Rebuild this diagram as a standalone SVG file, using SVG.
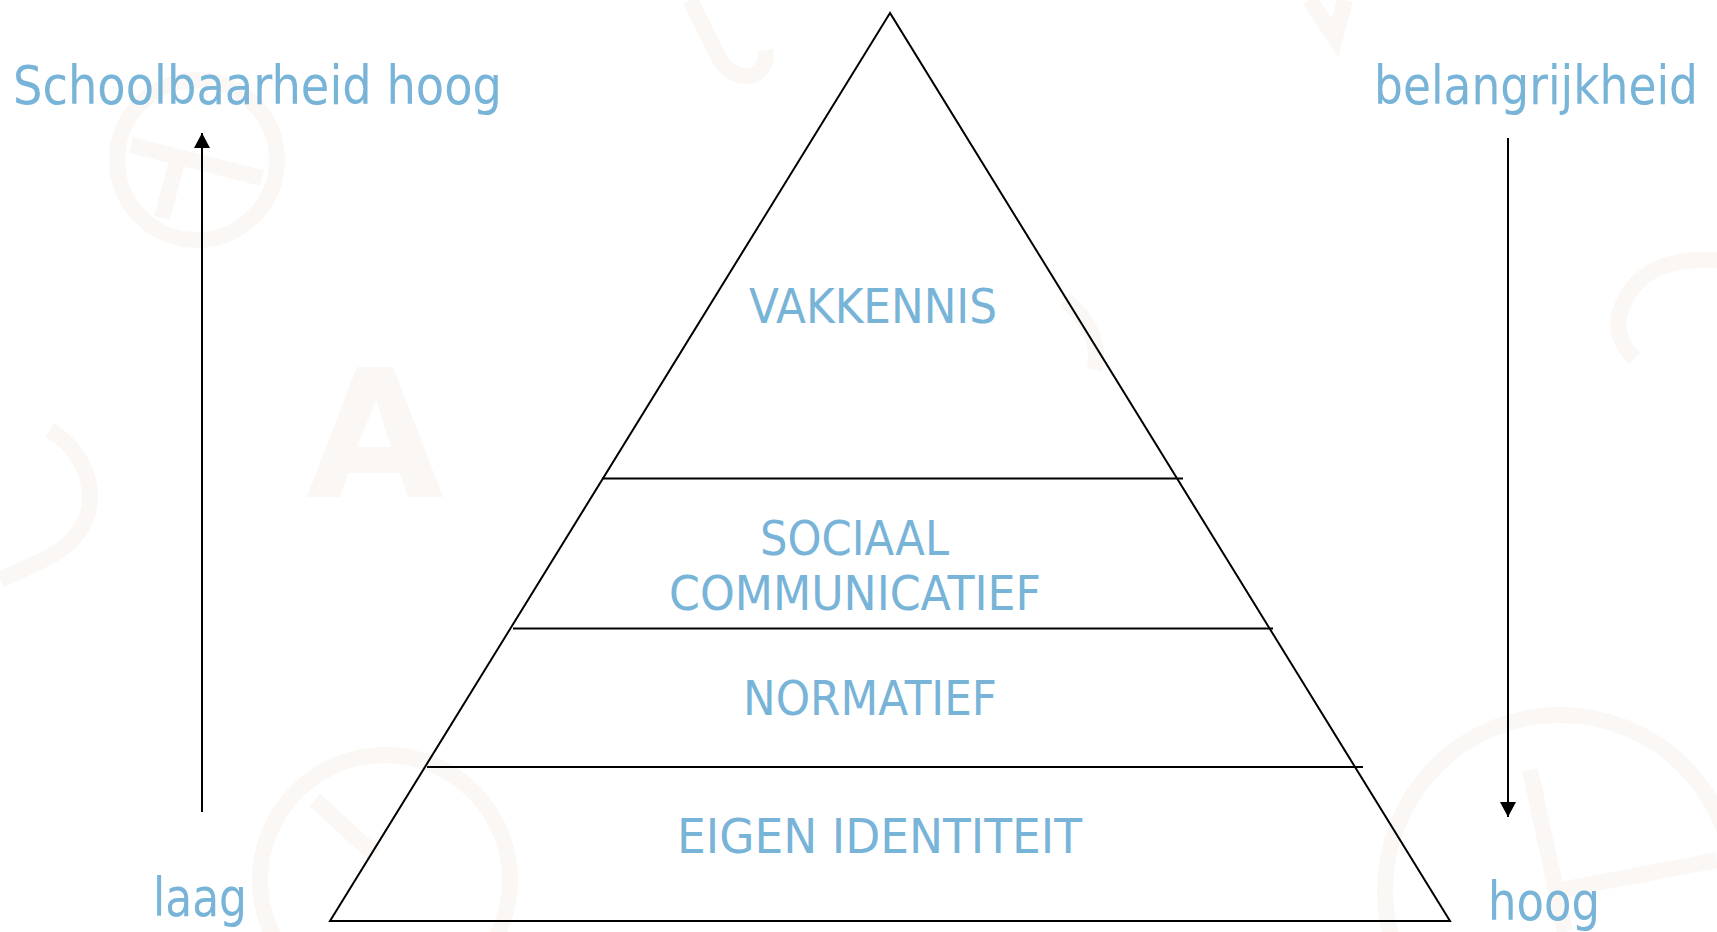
<svg xmlns="http://www.w3.org/2000/svg" width="1717" height="932" viewBox="0 0 1717 932">
  <defs>
    <style>
      .wm { fill: none; stroke: #faf7f4; stroke-width: 16; }
      .wmf { fill: #faf7f4; }
      .edge { fill: none; stroke: #000; stroke-width: 2; }
      .lbl { font-family: "DejaVu Sans", "Liberation Sans", sans-serif; fill: #78b3d8; }
      .big { font-size: 54px; }
      .lvl { font-size: 48px; }
    </style>
    <marker id="ah" markerUnits="userSpaceOnUse" markerWidth="16" markerHeight="16" refX="15" refY="8" orient="auto">
      <path d="M0,0 L15,8 L0,16 Z" fill="#000"/>
    </marker>
  </defs>

  <rect width="1717" height="932" fill="#fff"/>

  <g id="watermark">
    <circle class="wm" cx="197" cy="160" r="80"/>
    <path class="wm" d="M131,145 L262,178 M180,150 L162,218"/>
    <path class="wmf" d="M307,497 L357,367 L393,367 L443,497 L408,497 L400,473 L348,473 L340,497 Z M357,447 L391,447 L376,400 Z"/>
    <path class="wm" d="M50,430 C90,455 100,500 80,530 C65,555 30,565 0,580"/>
    <path class="wm" d="M690,0 L720,60 C735,85 770,80 765,50"/>
    <path class="wm" d="M1310,0 L1335,38 L1345,0"/>
    <path class="wm" d="M1717,260 C1670,258 1640,270 1625,300 C1612,325 1620,345 1635,358"/>
    <path class="wm" d="M1065,300 C1090,320 1100,345 1095,370"/>
    <circle class="wm" cx="385" cy="880" r="125"/>
    <path class="wm" d="M315,800 L375,855"/>
    <circle class="wm" cx="1560" cy="890" r="175"/>
    <path class="wm" d="M1530,770 L1565,932 M1560,890 L1717,860"/>
  </g>

  <g id="pyramid">
    <polygon class="edge" points="890,13 330,921 1450,921"/>
  </g>

  <g id="dividers">
    <line class="edge" x1="602" y1="478.5" x2="1183" y2="478.5"/>
    <line class="edge" x1="513" y1="628.5" x2="1273" y2="628.5"/>
    <line class="edge" x1="427" y1="767" x2="1363" y2="767"/>
  </g>

  <g id="level-vakkennis">
    <text class="lbl lvl" x="749" y="323" textLength="248" lengthAdjust="spacingAndGlyphs">VAKKENNIS</text>
  </g>
  <g id="level-sociaal">
    <text class="lbl lvl" x="760" y="555" textLength="189" lengthAdjust="spacingAndGlyphs">SOCIAAL</text>
    <text class="lbl lvl" x="669" y="610" textLength="372" lengthAdjust="spacingAndGlyphs">COMMUNICATIEF</text>
  </g>
  <g id="level-normatief">
    <text class="lbl lvl" x="743" y="715" textLength="254" lengthAdjust="spacingAndGlyphs">NORMATIEF</text>
  </g>
  <g id="level-identiteit">
    <text class="lbl lvl" x="677" y="853" textLength="405" lengthAdjust="spacingAndGlyphs">EIGEN IDENTITEIT</text>
  </g>

  <g id="label-schoolbaarheid">
    <text class="lbl big" x="13" y="104" textLength="489" lengthAdjust="spacingAndGlyphs">Schoolbaarheid hoog</text>
  </g>
  <g id="label-laag">
    <text class="lbl big" x="153" y="916" textLength="94" lengthAdjust="spacingAndGlyphs">laag</text>
  </g>
  <g id="label-belangrijkheid">
    <text class="lbl big" x="1698" y="104" text-anchor="end" textLength="324" lengthAdjust="spacingAndGlyphs">belangrijkheid</text>
  </g>
  <g id="label-hoog">
    <text class="lbl big" x="1488" y="920" textLength="112" lengthAdjust="spacingAndGlyphs">hoog</text>
  </g>

  <g id="connectors">
    <line class="edge" x1="202" y1="812" x2="202" y2="133" marker-end="url(#ah)"/>
    <line class="edge" x1="1508" y1="138" x2="1508" y2="817" marker-end="url(#ah)"/>
  </g>
</svg>
